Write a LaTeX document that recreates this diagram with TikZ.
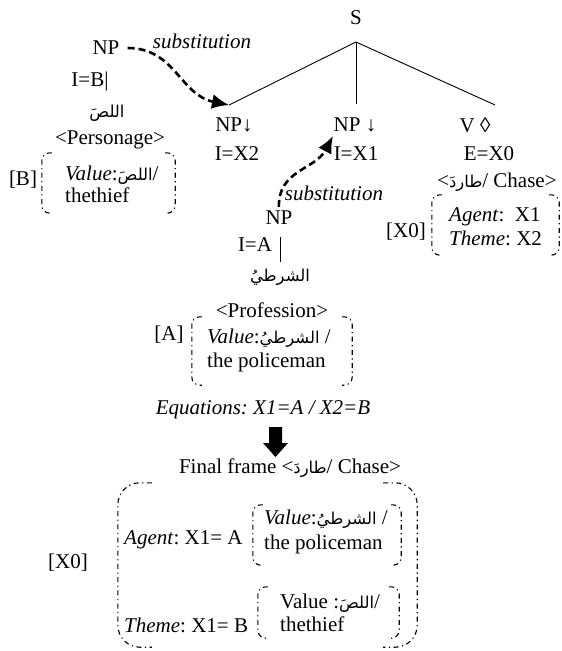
\documentclass[tikz,border=0pt]{standalone}
\usepackage{fontspec}
\setmainfont{Liberation Serif}
\newfontfamily\arfont[Script=Arabic,Scale=0.78]{DejaVu Sans}
\TeXXeTstate=1
\newcommand\AR[1]{{\arfont\beginR #1\endR}}
\usetikzlibrary{arrows.meta}
\newcommand\frbrk[3]{%
  \draw[brk, rounded corners=#3] ([xshift=#2]#1.north west) -- (#1.north west) -- (#1.south west) -- ([xshift=#2]#1.south west);
  \draw[brk, rounded corners=#3] ([xshift=-#2]#1.north east) -- (#1.north east) -- (#1.south east) -- ([xshift=-#2]#1.south east);}
\begin{document}
\frenchspacing
\begin{tikzpicture}[x=1pt,y=-1pt,
  every node/.style={font=\fontsize{21}{24}\selectfont, inner sep=1pt},
  subst/.style={line width=2.6pt, dash pattern=on 7pt off 4pt, -{Latex[length=17pt,width=15pt]}},
  brk/.style={line width=1.1pt, dash pattern=on 5pt off 3.5pt on 1.2pt off 3.5pt},
  tree/.style={line width=0.9pt}]
\useasboundingbox (0,0) rectangle (562,651);

% tree
\node (S) at (356,18) {S};
\coordinate (apex) at (356,42);
\node (npl) at (234,125) {NP↓};
\node (ix2) at (237,154) {I=X2};
\node (npm) at (355,125) {NP ↓};
\node (ix1) at (356,154) {I=X1};
\node (v) at (475,125) {V ◊};
\node (ex0) at (489,154) {E=X0};
\coordinate (tl) at (229,105);
\coordinate (tm) at (356,104);
\coordinate (tr) at (495,105);
\draw[tree] (apex) -- (tl);
\draw[tree] (apex) -- (tm);
\draw[tree] (apex) -- (tr);

% chase frame
\node (chase) at (497,182) {<\AR{طاردَ}/ Chase>};
\node (lX0) at (406,232) {[X0]};
\node[inner sep=0pt, minimum width=127pt, minimum height=60pt] (boxX) at (495.5,225) {};
\frbrk{boxX}{10pt}{8pt}
\node[anchor=west, align=left] (tX) at (448,227) {\textit{Agent}:\ \ X1\\\textit{Theme}: X2};

% NP B
\node (np1) at (106,48) {NP};
\node (sub1) at (202,41) {\textit{substitution}};
\node (ib) at (90,81) {I=B|};
\node (arB) at (107,113) {\AR{اللصَ}};
\node (pers) at (110,140) {<Personage>};
\node (lB) at (23,180) {[B]};
\node[inner sep=0pt, minimum width=133pt, minimum height=60pt] (boxB) at (108.5,183) {};
\frbrk{boxB}{10pt}{8pt}
\node[anchor=west, align=left, font=\fontsize{21}{22}\selectfont] (tB) at (64,184) {\textit{Value}:\AR{اللصَ}/\\thethief};
\draw[subst, shorten <=7pt] (np1.east) .. controls (175,48) and (180,95) .. (tl);

% NP A
\node (np2) at (279,218) {NP};
\node (sub2) at (334,193) {\textit{substitution}};
\coordinate (tm2) at (333,136);
\draw[subst, shorten <=3pt] (np2.north) .. controls (278,170) and (315,170) .. (tm2);
\node (ia) at (255,245) {I=A};
\coordinate (bt) at (280,237);
\coordinate (bb) at (280,262);
\draw[tree] (bt) -- (bb);
\node (arA) at (280,277) {\AR{الشرطيُ}};
\node (prof) at (272,310) {<Profession>};
\node (lA) at (169,335) {[A]};
\node[inner sep=0pt, minimum width=160pt, minimum height=68pt] (boxA) at (272,351) {};
\frbrk{boxA}{10pt}{8pt}
\node[anchor=west, align=left] (tA) at (206,350) {\textit{Value}:\AR{الشرطيُ} /\\the policeman};

% equations
\node (eq) at (263,410) {\textit{Equations: X1=A / X2=B}};
\fill (269,427) -- (282,427) -- (282,443) -- (288,443) -- (275.5,457) -- (263,443) -- (269,443) -- cycle;
\node (ff) at (290,468) {Final frame <\AR{طاردَ}/ Chase>};

% final frame
\node (lX0b) at (68,563) {[X0]};
\node[inner sep=0pt, minimum width=299pt, minimum height=164pt] (boxF) at (267.5,565) {};
\frbrk{boxF}{34pt}{22pt}
\node[anchor=west] (ag) at (123,540) {\textit{Agent}: X1= A};
\node[anchor=west] (th) at (123,625) {\textit{Theme}: X1= B};
\node[inner sep=0pt, minimum width=148pt, minimum height=60pt] (box1) at (327,535) {};
\frbrk{box1}{10pt}{8pt}
\node[anchor=west, align=left, font=\fontsize{21}{25}\selectfont] (t1) at (263,532) {\textit{Value}:\AR{الشرطيُ} /\\the policeman};
\node[inner sep=0pt, minimum width=141pt, minimum height=51pt] (box2) at (328.5,612.5) {};
\frbrk{box2}{10pt}{8pt}
\node[anchor=west, align=left, font=\fontsize{21}{23}\selectfont] (t2) at (279,613) {Value :\AR{اللصَ}/\\thethief};
\end{tikzpicture}
\end{document}
